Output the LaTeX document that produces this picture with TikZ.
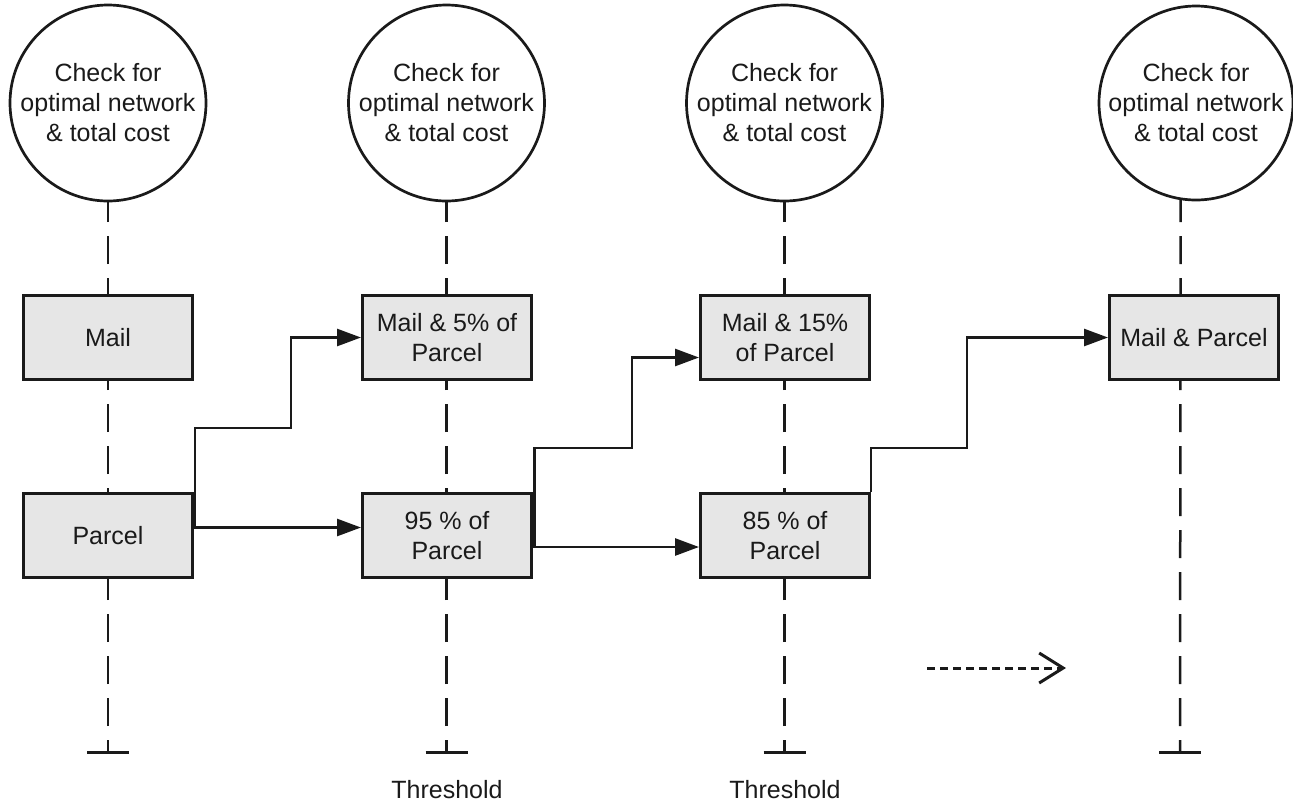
\documentclass[tikz,border=0pt]{standalone}
\usepackage{fontspec}
\setmainfont{Liberation Sans}
\usetikzlibrary{arrows.meta}
\definecolor{ink}{HTML}{1A1A1A}
\definecolor{boxgray}{HTML}{E6E6E6}
\begin{document}
\begin{tikzpicture}[x=1pt,y=-1pt,
  txt/.style={font=\fontsize{25}{30}\selectfont, text=ink, align=center},
  check/.style={txt, circle, draw=ink, line width=2.7pt, fill=white, minimum size=196pt, inner sep=0pt},
  stage/.style={txt, rectangle, draw=ink, line width=3pt, fill=boxgray, minimum width=169pt, minimum height=84pt, inner sep=0pt},
  lifeline/.style={draw=ink, line width=2.5pt, dash pattern=on 28pt off 14pt, dash phase=16pt},
  tbar/.style={draw=ink, line width=3pt},
  flow/.style={draw=ink, line width=2.7pt, -{Triangle[length=24pt,width=17pt]}},
  ahead/.style={draw=ink, line width=3pt, dash pattern=on 8pt off 5pt, -{Straight Barb[length=24pt,width=30pt]}},
]
\useasboundingbox (0,0) rectangle (1293,807);
% check circles
\node[check] (c1) at (108,103) {Check for\\optimal network\\\& total cost};
\node[check] (c2) at (446.5,103) {Check for\\optimal network\\\& total cost};
\node[check] (c3) at (784.5,103) {Check for\\optimal network\\\& total cost};
\node[check, minimum size=194pt] (c4) at (1196,103) {Check for\\optimal network\\\& total cost};
% lifeline ends
\coordinate (t1) at (108,752);
\coordinate (t2) at (446.5,752);
\coordinate (t3) at (784.5,752);
\coordinate (t4) at (1180,752);
\draw[lifeline] (t1) -- (c1.south);
\draw[lifeline] (t2) -- (c2.south);
\draw[lifeline] (t3) -- (c3.south);
\draw[lifeline] (t4) -- (c4.-99.5);
\foreach \t in {t1,t2,t3,t4}{\draw[tbar] ([xshift=-21pt]\t) -- ([xshift=21pt]\t);}
% boxes
\node[stage] (mail) at (108,337.5) {Mail};
\node[stage] (parcel) at (108,535.5) {Parcel};
\node[stage] (m5) at (447,337.5) {Mail \& 5\% of\\Parcel};
\node[stage] (p95) at (447,535.5) {95 \% of\\Parcel};
\node[stage] (m15) at (785,337.5) {Mail \& 15\%\\of Parcel};
\node[stage] (p85) at (785,535.5) {85 \% of\\Parcel};
\node[stage] (mp) at (1194,337.5) {Mail \& Parcel};
% flows
\draw[flow] ([yshift=8pt]parcel.east) -- ([yshift=8pt]p95.west);
\draw[flow] ([xshift=1pt,yshift=8pt]parcel.east) |- (291,428) |- (m5.west);
\draw[flow] ([yshift=-11.5pt]p95.east) -- ([yshift=-11.5pt]p85.west);
\draw[flow] ([xshift=1.5pt,yshift=-11.5pt]p95.east) |- (632,448) |- ([yshift=-20pt]m15.west);
\draw[flow] (p85.north east) |- (967,448) |- (mp.west);
% continuation arrow
\coordinate (d1) at (927,668);
\coordinate (d2) at (1066,668);
\draw[ahead] (d1) -- (d2);
% labels
\node[txt] (th2) at (447,790) {Threshold};
\node[txt] (th3) at (785,790) {Threshold};
\end{tikzpicture}
\end{document}
